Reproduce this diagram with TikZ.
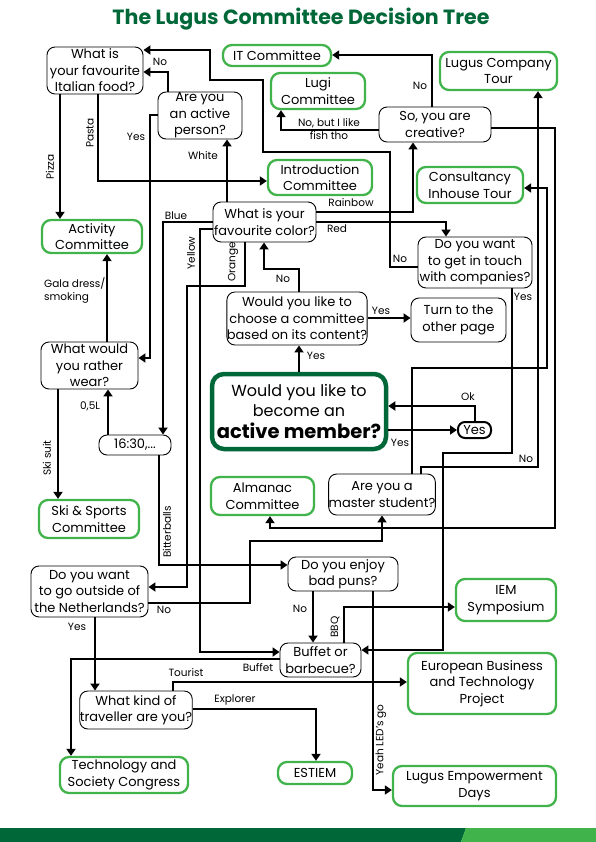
\documentclass[tikz,border=0pt]{standalone}
\usepackage{fontspec}
\setmainfont{Poppins}
\usetikzlibrary{arrows.meta}
\definecolor{dgreen}{RGB}{0,104,56}
\definecolor{lgreen}{RGB}{64,180,75}

\begin{document}
\begin{tikzpicture}[x=1pt, y=-1pt, align=center,
  q/.style={draw, line width=0.9pt, rounded corners=8pt, inner sep=0pt, font=\fontsize{13}{16.5}\selectfont},
  com/.style={draw=lgreen, line width=2.3pt, rounded corners=9pt, inner sep=0pt, font=\fontsize{13}{16.5}\selectfont},
  lbl/.style={font=\fontsize{10.5}{13}\selectfont, inner sep=0pt},
  arr/.style={line width=2.4pt, -{Triangle[length=7pt,width=9pt]}},
  sz/.style 2 args={minimum width=#1pt, minimum height=#2pt}]
      \useasboundingbox (0,0) rectangle (596,842);

      % title and the bar at the bottom
      \node[font=\fontsize{20.6}{24}\selectfont\bfseries, text=dgreen] (Title) at (301,19) {The Lugus Committee Decision Tree};
      \fill[dgreen] (0,828) -- (466,828) -- (461,842) -- (0,842) -- cycle;
      \fill[lgreen] (466,828) -- (596,828) -- (596,842) -- (461,842) -- cycle;

      % questions
      \node[q, sz={96}{47}] (Food) at (95,70.5) {What is\\ your favourite\\ Italian food?};
      \node[q, sz={84}{47}] (ActP) at (200,115.5) {Are you\\ an active\\ person?};
      \node[q, sz={112}{35}] (Creat) at (435,124.5) {So, you are\\ creative?};
      \node[q, sz={103}{40}] (Color) at (264.5,222) {What is your\\ favourite color?};
      \node[q, sz={114}{51}] (Touch) at (475,262.5) {Do you want\\ to get in touch\\ with companies?};
      \node[q, sz={140}{53}] (Content) at (297,318.5) {Would you like to\\ choose a committee\\ based on its content?};
      \node[q, sz={95}{44}] (Turn) at (458.5,320) {Turn to the\\ other page};
      \node[draw=dgreen, line width=4.5pt, rounded corners=12pt, sz={174}{75}, inner sep=0pt,
            font=\fontsize{16}{20}\selectfont] (Main) at (299,411.5)
            {Would you like to\\ become an\\[2pt] {\fontsize{19.5}{22}\selectfont\bfseries active member?}};
      \node[q, line width=2pt, rounded corners=7pt, sz={33}{16}] (YesB) at (474.5,430) {Yes};
      \node[q, sz={72}{20}] (T1630) at (135,445) {16:30,...};
      \node[q, sz={97}{47}] (Wear) at (89.5,365.5) {What would\\ you rather\\ wear?};
      \node[q, sz={106}{41}] (Master) at (382,494.5) {Are you a\\ master student?};
      \node[q, sz={117}{51}] (Outside) at (89.5,591.5) {Do you want\\ to go outside of\\ the Netherlands?};
      \node[q, sz={110}{34}] (Puns) at (343,574) {Do you enjoy\\ bad puns?};
      \node[q, sz={81}{34}] (Buffet) at (320.5,660) {Buffet or\\ barbecue?};
      \node[q, sz={112}{38}] (Trav) at (136,710) {What kind of\\ traveller are you?};

      % committees
      \node[com, sz={108}{21}] (IT) at (277,55.5) {IT Committee};
      \node[com, sz={94}{36}] (Lugi) at (318,91) {Lugi\\ Committee};
      \node[com, sz={117}{38}] (LCT) at (498.5,71) {Lugus Company\\ Tour};
      \node[com, sz={104}{35}] (Intro) at (320,177.5) {Introduction\\ Committee};
      \node[com, sz={106}{36}] (Cons) at (470,185) {Consultancy\\ Inhouse Tour};
      \node[com, sz={100}{33}] (ActC) at (92,236.5) {Activity\\ Committee};
      \node[com, sz={103}{38}] (Alm) at (262.5,496) {Almanac\\ Committee};
      \node[com, sz={100}{38}] (Ski) at (89,519) {Ski \& Sports\\ Committee};
      \node[com, sz={100}{42}] (IEM) at (506,600) {IEM\\ Symposium};
      \node[com, sz={148}{61}] (EBTP) at (482,683.5) {European Business\\ and Technology\\ Project};
      \node[com, sz={128}{36}] (Tsc) at (124,775) {Technology and\\ Society Congress};
      \node[com, sz={74}{22}] (Estiem) at (315,773) {ESTIEM};
      \node[com, sz={163}{40}] (LED) at (474.5,786) {Lugus Empowerment\\ Days};

      % answers
      \draw[arr] (ActP.north -| 168,0) |- (Food.east |- 0,72);
      \draw[arr] (ActP.west |- 0,115) -| (150,358) -- (Wear.east |- 0,358);
      \draw[arr] (Food.south -| 60,0) -- (ActC.north -| 60,0);
      \draw[arr] (Food.south -| 98,0) |- (Intro.west |- 0,181);

      \draw[arr] (Color.north -| 227,0) -- (ActP.south -| 227,0);
      \draw[arr] (Color.west |- 0,222) -| (T1630.north -| 163,0);
      \draw[arr] (Color.west |- 0,229) -| (200,652) -- (Buffet.west |- 0,652);
      \draw[arr] (Color.south -| 245,0) |- (187,286) |- (Outside.east |- 0,587);
      \draw[arr] (Color.east |- 0,212) -| (Creat.south -| 413,0);
      \draw[arr] (Color.east |- 0,222) -| (Touch.north -| 446,0);

      \draw[arr] (Content.north -| 299,0) |- (264,269) -- (Color.south -| 264,0);
      \draw[arr] (Content.east |- 0,318) -- (Turn.west |- 0,318);
      \draw[arr] (Main.north -| 299,0) -- (Content.south -| 299,0);
      \draw[arr] (Main.east |- 0,430) -- (YesB.west);
      \draw[arr] (YesB.north -| 475,0) |- (Main.east |- 0,406);

      \draw[arr] (Touch.west |- 0,267) -| (390,152) -| (263,80) -| (210,50) -- (Food.east |- 0,50);
      \draw[arr] (Touch.south -| 512,0) |- (443,453) |- (Buffet.east |- 0,650);

      \draw[arr] (Creat.north -| 432,0) |- (IT.east |- 0,55);
      \draw[arr] (Creat.west |- 0,130) -| (Lugi.south -| 281,0);
      \draw[arr] (Creat.east |- 0,128) -| (555,528) -| (Alm.south -| 270,0);

      \draw[arr] (Master.north -| 412,0) |- (547,368) |- (Cons.east |- 0,188);
      \draw[arr] (Master.north -| 421,0) |- (538,467) -- (LCT.south -| 538,0);

      \draw[arr] (Outside.east |- 0,603) -| (250,541) -| (Master.south -| 382,0);
      \draw[arr] (Outside.south -| 95,0) -- (Trav.north -| 95,0);

      \draw[arr] (T1630.north -| 108,0) -- (Wear.south -| 108,0);
      \draw[arr] (T1630.south -| 159,0) |- (Puns.west |- 0,565);
      \draw[arr] (Wear.north -| 107,0) -- (ActC.south -| 107,0);
      \draw[arr] (Wear.south -| 58,0) -- (Ski.north -| 58,0);

      \draw[arr] (Puns.south -| 313,0) -- (Buffet.north -| 313,0);
      \draw[arr] (Puns.south -| 373,0) |- (LED.west |- 0,790);
      \draw[arr] (Buffet.north -| 344,0) |- (IEM.west |- 0,607);
      \draw[arr] (Buffet.west |- 0,659) -| (Tsc.north -| 71,0);

      \draw[arr] (Trav.north -| 173,0) |- (EBTP.west |- 0,682);
      \draw[arr] (Trav.east |- 0,709) -| (Estiem.north -| 316,0);

      % labels on the lines
      \node[lbl] (lFoodNo) at (160,62) {No};
      \node[lbl] (lWearYes) at (136,137) {Yes};
      \node[lbl, rotate=90] (lPizza) at (50,167) {Pizza};
      \node[lbl, rotate=90] (lPasta) at (90,133) {Pasta};
      \node[lbl] (lWhite) at (203,156) {White};
      \node[lbl] (lBlue) at (176,216) {Blue};
      \node[lbl, rotate=90] (lYellow) at (191,253) {Yellow};
      \node[lbl, rotate=90] (lOrange) at (233,262) {Orange};
      \node[lbl] (lRainbow) at (351,203) {Rainbow};
      \node[lbl] (lRed) at (337,229) {Red};
      \node[lbl] (lColorNo) at (283,279) {No};
      \node[lbl] (lTurnYes) at (381,311) {Yes};
      \node[lbl] (lContYes) at (316,356) {Yes};
      \node[lbl] (lConsYes) at (400,443) {Yes};
      \node[lbl] (lOk) at (468,397) {Ok};
      \node[lbl] (lTouchNo) at (400,259) {No};
      \node[lbl] (lTouchYes) at (523,297) {Yes};
      \node[lbl] (lItNo) at (420,86) {No};
      \node[lbl] (lFish) at (329,129) {No, but I like\\ fish tho};
      \node[lbl] (lLctNo) at (526,459) {No};
      \node[lbl] (lMasterNo) at (164,610) {No};
      \node[lbl] (lTravYes) at (77,627) {Yes};
      \node[lbl] (lBeer) at (90,406) {0,5L};
      \node[lbl, rotate=90] (lBitter) at (167,532) {Bitterballs};
      \node[lbl, anchor=west, align=left] (lGala) at (44,290) {Gala dress/\\ smoking};
      \node[lbl, rotate=90] (lSki) at (47,458) {Ski suit};
      \node[lbl] (lPunsNo) at (300,609) {No};
      \node[lbl, rotate=90] (lLed) at (381,740) {Yeah LED's go};
      \node[lbl, rotate=90] (lBbq) at (335,627) {BBQ};
      \node[lbl] (lBuffet) at (258,668) {Buffet};
      \node[lbl] (lTourist) at (186,673) {Tourist};
      \node[lbl] (lExplorer) at (235,700) {Explorer};
\end{tikzpicture}
\end{document}
